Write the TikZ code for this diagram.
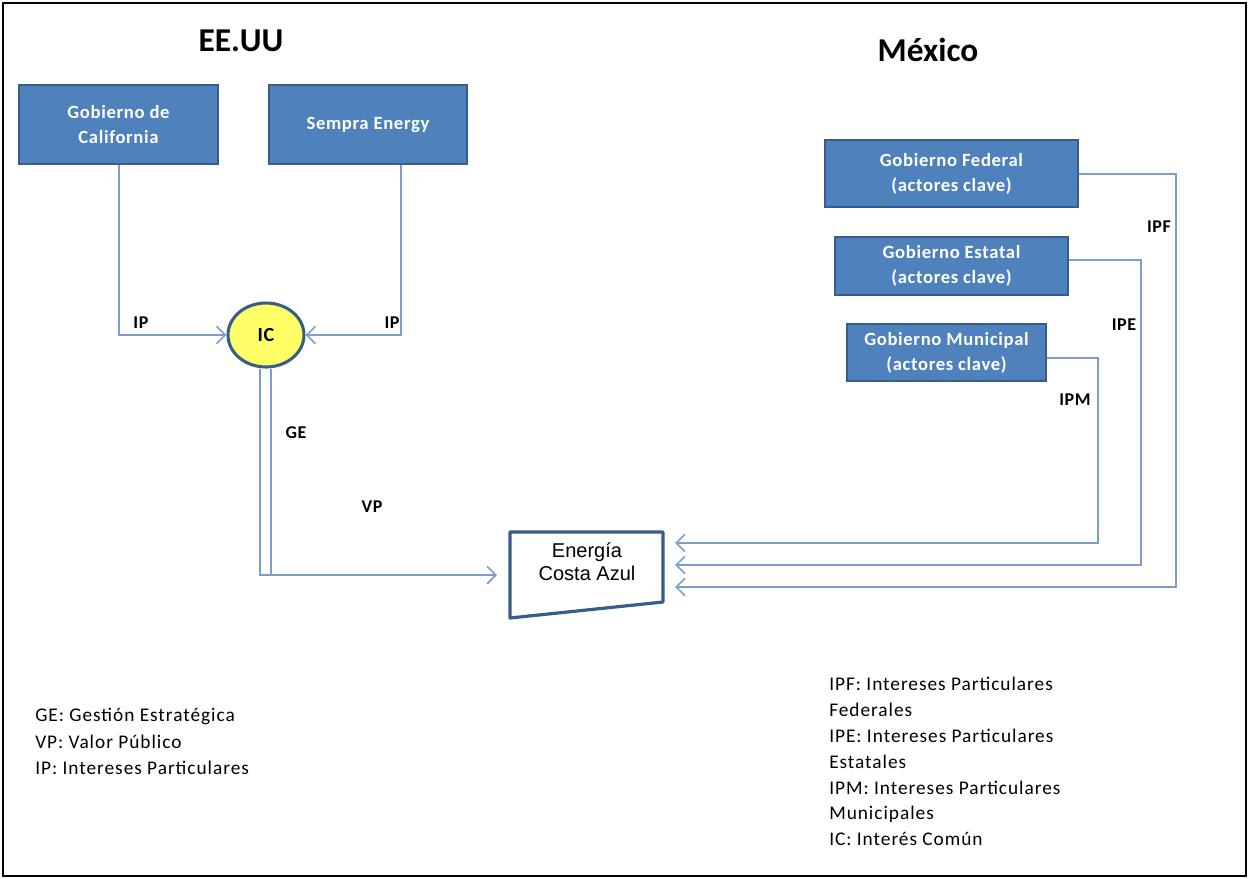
\documentclass[tikz,border=0pt]{standalone}
\usepackage{fontspec}
\setmainfont{Carlito}
\newfontfamily\legf[LetterSpace=5]{Carlito}
\newfontfamily\boxf[LetterSpace=3.5]{Carlito}
\newfontfamily\arialf{Liberation Sans}
\usetikzlibrary{arrows.meta,shapes.geometric}
\definecolor{boxblue}{HTML}{4F81BD}
\definecolor{boxedge}{HTML}{385D8A}
\definecolor{linec}{HTML}{7F9DCB}
\definecolor{icyel}{HTML}{FFFF66}
\begin{document}
\begin{tikzpicture}[x=0.75pt,y=-0.75pt,
  actor/.style={draw=boxedge, line width=1.5pt, fill=boxblue, text=white,
    font=\boxf\bfseries\fontsize{14}{18.75}\selectfont, align=center, inner sep=0pt},
  conn/.style={draw=linec, line width=1.5pt},
  arr/.style={conn, -{Straight Barb[length=6.5pt,width=13pt,line width=1.3pt]}},
  lbl/.style={font=\boxf\bfseries\fontsize{13.5}{15}\selectfont, inner sep=0pt},
  legend/.style={font=\legf\fontsize{14.5}{18}\selectfont, anchor=west, inner sep=0pt},
  title/.style={font=\bfseries\fontsize{25}{30}\selectfont, anchor=base, inner sep=0pt}]
\useasboundingbox (0,0) rectangle (1248,878);
\draw[line width=1.5pt] (2.5,2.5) rectangle (1245.5,875.5);

% titles
\node[title] (t1) at (241,51) {EE.UU};
\node[title] (t2) at (928,61) {México};

% actor boxes
\node[actor, minimum width=149.25pt, minimum height=59.25pt] (cal) at (118.5,124.5) {Gobierno de\\California};
\node[actor, minimum width=148.5pt, minimum height=59.25pt] (sem) at (368,124.5) {Sempra Energy};
\node[actor, minimum width=189.75pt, minimum height=50.25pt] (fed) at (951.5,173.5) {Gobierno Federal\\(actores clave)};
\node[actor, minimum width=174.75pt, minimum height=43.5pt] (est) at (951.5,266) {Gobierno Estatal\\(actores clave)};
\node[actor, minimum width=149.25pt, minimum height=42.75pt] (mun) at (946.5,352.5) {Gobierno Municipal\\(actores clave)};

% common interest
\node[ellipse, draw=boxedge, line width=2.3pt, fill=icyel, minimum width=57pt, minimum height=48pt,
  font=\boxf\bfseries\fontsize{15}{17}\selectfont] (ic) at (266,335) {IC};

% Energia Costa Azul
\draw[boxedge, line width=2.4pt, line join=round] (510,532) -- (663,532) -- (663,602) -- (510,618) -- cycle;
\node[font=\arialf\fontsize{15}{17}\selectfont, align=center, inner sep=0pt] (eca) at (587,562) {Energía\\Costa Azul};

% coordinates
\coordinate (tVP) at (497,575);
\coordinate (cM) at (1098,543);
\coordinate (cE) at (1141,565);
\coordinate (cF) at (1176,587);
\coordinate (tM) at (675,543);
\coordinate (tE) at (675,565);
\coordinate (tF) at (675,587);

% connectors
\draw[arr] (cal.south) |- (ic.west);
\draw[arr] ([xshift=24.75pt]sem.south) |- (ic.east);
\draw[arr] ([xshift=-4.5pt]ic.south) |- (tVP);
\draw[conn] ([xshift=3.75pt]ic.south) -- ([xshift=3.75pt]ic.south |- tVP);
\draw[arr] ([yshift=-4pt]mun.east) -| (cM) -- (tM);
\draw[arr] ([yshift=4.5pt]est.east) -| (cE) -- (tE);
\draw[arr] (fed.east) -| (cF) -- (tF);

% labels
\node[lbl] (l1) at (141,323) {IP};
\node[lbl] (l2) at (392,323) {IP};
\node[lbl] (l3) at (296,433) {GE};
\node[lbl] (l4) at (372,507) {VP};
\node[lbl] (l5) at (1159,227) {IPF};
\node[lbl] (l6) at (1124,325) {IPE};
\node[lbl] (l7) at (1075,400) {IPM};

% legends
\node[legend] (g1) at (35,716) {GE: Gestión Estratégica};
\node[legend] (g2) at (35,742) {VP: Valor Público};
\node[legend] (g3) at (35,768) {IP: Intereses Particulares};
\node[legend] (h1) at (829,684) {IPF: Intereses Particulares};
\node[legend] (h2) at (829,710) {Federales};
\node[legend] (h3) at (829,736) {IPE: Intereses Particulares};
\node[legend] (h4) at (829,762) {Estatales};
\node[legend] (h5) at (829,788) {IPM: Intereses Particulares};
\node[legend] (h6) at (829,814) {Municipales};
\node[legend] (h7) at (829,839) {IC: Interés Común};
\end{tikzpicture}
\end{document}
